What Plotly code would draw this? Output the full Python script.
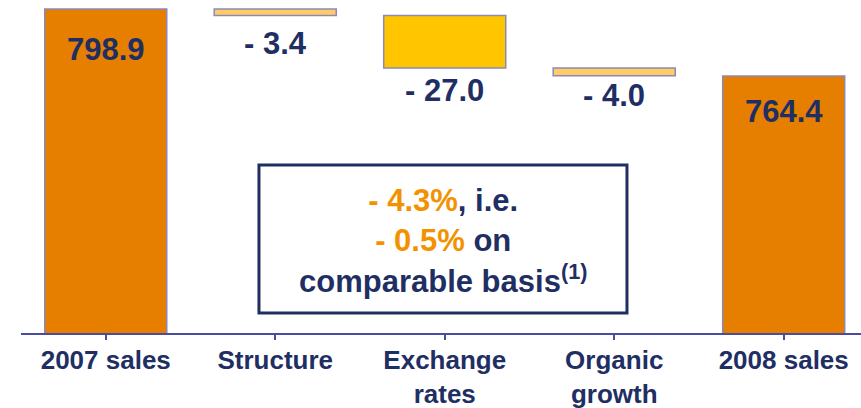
import plotly.graph_objects as go

# Sales bridge 2007 -> 2008 (EUR m)
categories = ["2007 sales", "Structure", "Exchange<br>rates", "Organic<br>growth", "2008 sales"]
values = [798.9, -3.4, -27.0, -4.0, 764.4]
kinds = ["total", "delta", "delta", "delta", "total"]
headline_pct = -4.3
comparable_pct = -0.5

# styling
NAVY = "#1F2F63"
ORANGE_TXT = "#F39200"
bar_colors = ["#E67E00", "#FFCC66", "#FFC600", "#FFCC66", "#E67E00"]
label_shift = [-41, -28, -22, -20, -36]
FONT = "Liberation Sans, Arial, sans-serif"

# running level for the floating bars
bases, heights, anchors = [], [], []
level = 0.0
for v, k in zip(values, kinds):
    if k == "total":
        bases.append(0)
        heights.append(v)
        level = v
        anchors.append(v)
    else:
        bases.append(level)
        heights.append(v)
        level += v
        anchors.append(level)

fig = go.Figure()
fig.add_trace(go.Bar(
    x=list(range(len(categories))),
    y=heights,
    base=bases,
    width=0.72,
    marker=dict(color=bar_colors, line=dict(color="#8A8AB8", width=1.5)),
    hoverinfo="skip",
    showlegend=False,
))

def fmt(v):
    return f"{v:.1f}" if v >= 0 else f"- {abs(v):.1f}"

for i, (v, a) in enumerate(zip(values, anchors)):
    fig.add_annotation(
        x=i, y=a, xref="x", yref="y",
        text=f"<b>{fmt(v)}</b>", showarrow=False,
        yanchor="middle", yshift=label_shift[i],
        font=dict(family=FONT, size=31, color=NAVY),
    )

# summary box
fig.add_shape(type="rect", xref="paper", yref="paper",
              x0=0.2833, x1=0.7214, y0=0.0601, y1=0.5045,
              line=dict(color=NAVY, width=3), fillcolor="white")

def pct(p):
    return f"- {abs(p):.1f}%" if p < 0 else f"+ {p:.1f}%"

box_text = (
    f"<b><span style='color:{ORANGE_TXT}'>{pct(headline_pct)}</span>, i.e.</b><br>"
    f"<b><span style='color:{ORANGE_TXT}'>{pct(comparable_pct)}</span> on</b><br>"
    f"<b>comparable basis<sup>(1)</sup></b>"
)
fig.add_annotation(
    x=0.5024, y=0.275, xref="paper", yref="paper",
    text=box_text, showarrow=False, align="center",
    xanchor="center", yanchor="middle",
    font=dict(family=FONT, size=31, color=NAVY),
)

fig.update_layout(
    width=861, height=408,
    margin=dict(l=21, r=0, t=0, b=75, autoexpand=False),
    paper_bgcolor="white", plot_bgcolor="white",
    bargap=0.28,
)
fig.update_xaxes(
    range=[-0.5, 4.456],
    tickmode="array",
    tickvals=list(range(len(categories))),
    ticktext=[f"<b>{c}</b>" for c in categories],
    tickson="boundaries",
    ticks="outside", ticklen=5, tickcolor="#4B4BA0", tickwidth=1.5,
    ticklabelstandoff=-2,
    automargin=False,
    showline=True, linecolor="#4B4BA0", linewidth=1.5,
    showgrid=False, zeroline=False,
    tickfont=dict(family=FONT, size=26, color=NAVY),
)
fig.update_yaxes(range=[632.1, 803.5], visible=False, showgrid=False, automargin=False)

fig.write_html("out.html")
